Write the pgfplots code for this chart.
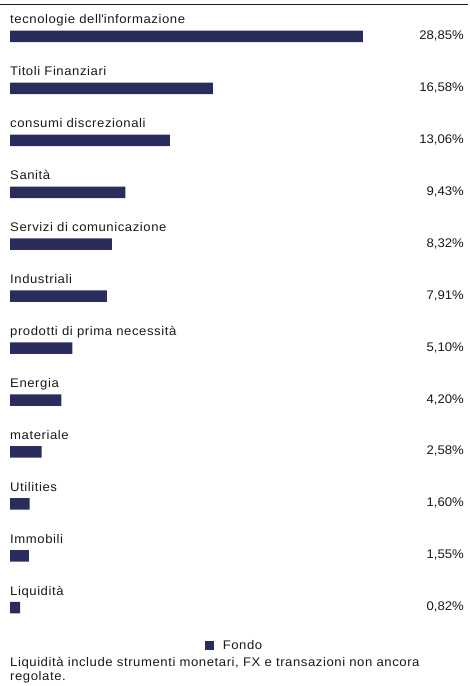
\documentclass[border=0pt]{standalone}
\usepackage{fontspec}
\setmainfont{Liberation Sans}[LetterSpace=4.5, FakeStretch=1.05]
\newfontfamily\numfont{Liberation Sans}[FakeStretch=1.05]
\usepackage{pgfplots}
\pgfplotsset{compat=1.18}
\definecolor{barc}{RGB}{42,44,92}
\definecolor{txt}{RGB}{25,25,25}
\newcommand{\lf}{\fontsize{12.5}{14}\selectfont}
\begin{document}
\begin{tikzpicture}
\path[use as bounding box] (0,0) rectangle (469pt,686pt);
\draw[line width=1.2pt, txt] (0pt,681.7pt) -- (468pt,681.7pt);
\begin{axis}[
  name=ax,
  at={(10pt,675.5pt)}, anchor=north west,
  scale only axis, width=454pt, height=623.2pt,
  xmin=0, xmax=37.105, ymin=-0.5, ymax=11.5, y dir=reverse,
  hide axis, clip=false,
  legend style={at={(0.4923,-0.0189)}, anchor=center, draw=none, fill=none,
    inner sep=0pt, font=\lf\color{txt},
    nodes={inner sep=0pt}, /tikz/every odd column/.style={column sep=9pt}},
  legend image code/.code={\fill[barc] (0pt,-4.5pt) rectangle (9pt,4.5pt);},
]
\addplot[xbar, bar width=11.5pt, fill=barc, draw=none] coordinates {
(28.85,0) (16.58,1) (13.06,2) (9.43,3) (8.32,4) (7.91,5)
(5.10,6) (4.20,7) (2.58,8) (1.60,9) (1.55,10) (0.82,11)};
\addlegendentry{Fondo}
\addplot[forget plot, draw=none, mark=none, nodes near coords, point meta=explicit symbolic,
  every node near coord/.style={anchor=base west, yshift=12.5pt, inner sep=0pt, font=\lf, text=txt}]
coordinates {
(0,0) [{tecnologie dell\textquotesingle informazione}]
(0,1) [{Titoli Finanziari}]
(0,2) [{consumi discrezionali}]
(0,3) [{Sanità}]
(0,4) [{Servizi di comunicazione}]
(0,5) [{Industriali}]
(0,6) [{prodotti di prima necessità}]
(0,7) [{Energia}]
(0,8) [{materiale}]
(0,9) [{Utilities}]
(0,10) [{Immobili}]
(0,11) [{Liquidità}]};
\addplot[forget plot, draw=none, mark=none, nodes near coords, point meta=explicit symbolic,
  every node near coord/.style={anchor=base east, yshift=-3pt, inner sep=0pt, font=\numfont\lf, text=txt}]
coordinates {
(37.105,0) [{28,85\%}]
(37.105,1) [{16,58\%}]
(37.105,2) [{13,06\%}]
(37.105,3) [{9,43\%}]
(37.105,4) [{8,32\%}]
(37.105,5) [{7,91\%}]
(37.105,6) [{5,10\%}]
(37.105,7) [{4,20\%}]
(37.105,8) [{2,58\%}]
(37.105,9) [{1,60\%}]
(37.105,10) [{1,55\%}]
(37.105,11) [{0,82\%}]};
\end{axis}
\node[anchor=base west, inner sep=0pt, font=\lf, text=txt] at (10pt,19.5pt) {Liquidità include strumenti monetari, FX e transazioni non ancora};
\node[anchor=base west, inner sep=0pt, font=\lf, text=txt] at (10pt,5.5pt) {regolate.};
\end{tikzpicture}
\end{document}
